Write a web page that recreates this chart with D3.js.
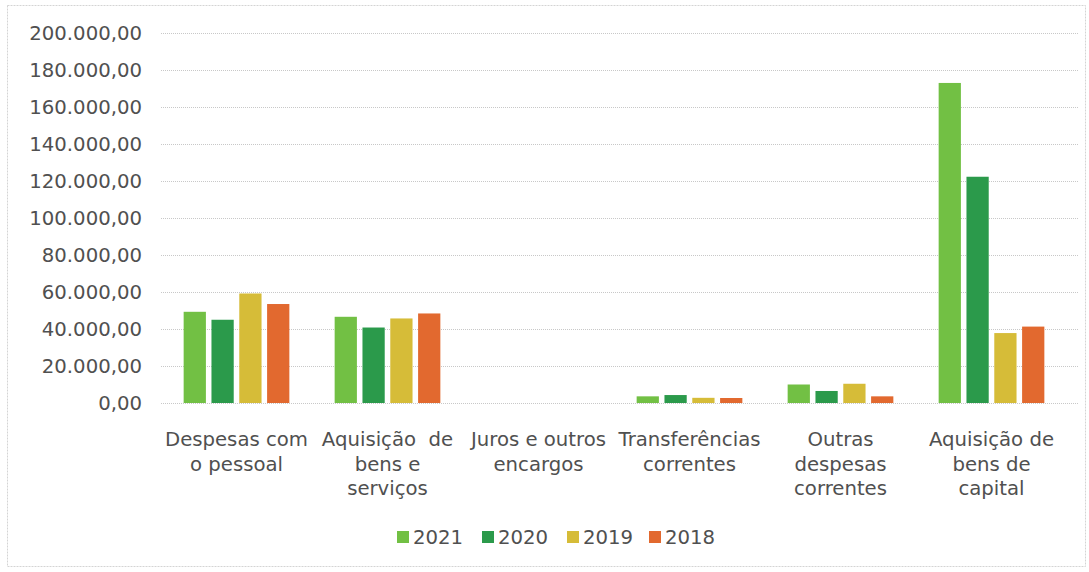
<!DOCTYPE html>
<html><head><meta charset="utf-8">
<script src="https://cdn.jsdelivr.net/npm/d3@7"></script>
<style>body{margin:0;background:#fff}svg{display:block}</style>
</head><body>
<svg id="c" width="1089" height="572"></svg>
<script>
const categories = ["Despesas com o pessoal","Aquisição de bens e serviços","Juros e outros encargos","Transferências correntes","Outras despesas correntes","Aquisição de bens de capital"];
const categoryLines = [["Despesas com","o pessoal"],["Aquisição  de","bens e","serviços"],["Juros e outros","encargos"],["Transferências","correntes"],["Outras","despesas","correntes"],["Aquisição de","bens de","capital"]];
const years = ["2021","2020","2019","2018"];
const v2021 = [49300, 46600, 0, 3600, 10000, 173000];
const v2020 = [45000, 40800, 0, 4300, 6500, 122300];
const v2019 = [59200, 45700, 0, 2800, 10400, 37800];
const v2018 = [53500, 48400, 0, 2700, 3600, 41300];
const yTicks = [0,20000,40000,60000,80000,100000,120000,140000,160000,180000,200000];
const colors = ["#72c044","#2b9a4b","#d6bc38","#e2692f"];
const series = [v2021, v2020, v2019, v2018];

const svg = d3.select("#c");
const font = "'DejaVu Sans', sans-serif";
const fs = 19.7;
const tc = "#505050";
// outer border
svg.append("rect").attr("x",7.5).attr("y",5.5).attr("width",1078).attr("height",561)
  .attr("fill","none").attr("stroke","#d4d4d4").attr("stroke-dasharray","2,1");

const x = d3.scaleBand().domain(categories).range([161,1067]).paddingInner(0.3).paddingOuter(0.15);
const y = d3.scaleLinear().domain([0,200000]).range([403,33]);
const xs = d3.scaleBand().domain(years).range([0,x.bandwidth()]).paddingInner(0.2);

// grid
svg.append("g").selectAll("line").data(yTicks).join("line")
  .attr("x1",161).attr("x2",1078).attr("y1",d=>y(d)+0.5).attr("y2",d=>y(d)+0.5)
  .attr("stroke","#c8c8c8").attr("stroke-dasharray","1,1");

// y axis labels
const fmt = d => d3.format(",.2f")(d).replace(/,/g,"#").replace(/\./g,",").replace(/#/g,".");
const yAxis = d3.axisLeft(y).tickValues(yTicks).tickFormat(fmt).tickSize(0).tickPadding(0);
const ya = svg.append("g").attr("transform","translate(142,0)").call(yAxis);
ya.select(".domain").remove();
ya.selectAll("text").attr("font-family",font).attr("font-size",fs).attr("fill",tc);

// bars
series.forEach((vals,si)=>{
  svg.append("g").selectAll("rect").data(categories).join("rect")
    .attr("x",(c)=>x(c)+xs(years[si]))
    .attr("width",xs.bandwidth())
    .attr("y",(c,i)=>y(vals[i]))
    .attr("height",(c,i)=>y(0)-y(vals[i]))
    .attr("fill",colors[si]);
});

// category labels
const xa = svg.append("g");
categories.forEach((c,i)=>{
  const cx = x(c)+x.bandwidth()/2;
  const t = xa.append("text").attr("x",cx).attr("y",446).attr("text-anchor","middle")
    .attr("font-family",font).attr("font-size",fs).attr("fill",tc).attr("xml:space","preserve");
  categoryLines[i].forEach((l,j)=>{
    t.append("tspan").attr("x",cx).attr("y",446+j*24.5).text(l);
  });
});

// legend
const leg = svg.append("g");
const legX = [397,482,567,649];
years.forEach((yr,i)=>{
  leg.append("rect").attr("x",legX[i]).attr("y",531).attr("width",12).attr("height",12).attr("fill",colors[i]);
  leg.append("text").attr("x",legX[i]+16).attr("y",544).attr("font-family",font).attr("font-size",fs)
    .attr("fill",tc).text(yr);
});
</script>
</body></html>
